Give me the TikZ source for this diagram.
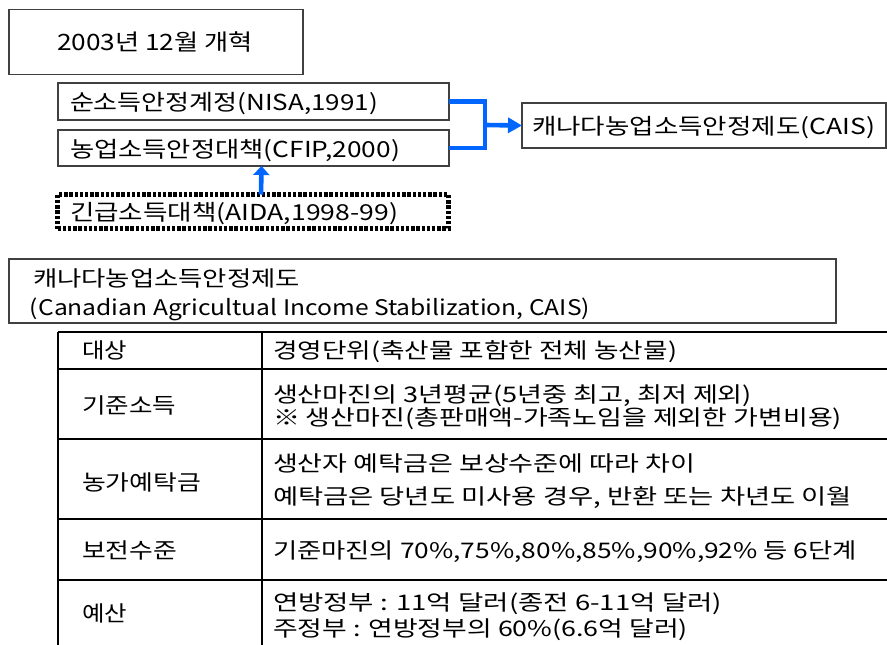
\documentclass[tikz,border=0pt]{standalone}
\usepackage{fontspec}
\setmainfont{Noto Sans CJK KR}
\usetikzlibrary{arrows.meta}
\definecolor{bl}{RGB}{0,102,255}
\newcommand{\fitw}[2]{\resizebox{#1pt}{\height}{#2}}
\begin{document}
\begin{tikzpicture}[x=1pt,y=-1pt,
  box/.style={draw=black!75, line width=1.1pt, rectangle, inner sep=0pt, outer sep=0pt},
  dotbox/.style={draw=black, line width=4.2pt, dash pattern=on 3.4pt off 1.8pt, rectangle, inner sep=0pt, outer sep=0pt},
  txt/.style={anchor=base west, inner sep=0pt, outer sep=0pt, font=\fontsize{21.5}{24}\selectfont},
  btxt/.style={txt, font=\fontsize{22}{24}\selectfont},
  conn/.style={draw=bl, line width=4.6pt},
  gridline/.style={line width=1.5pt, black}]
\fill[white] (0,0) rectangle (887,645);
\useasboundingbox (0,0) rectangle (887,645);

% top boxes
\node[box, minimum width=294pt, minimum height=65pt] (reform) at (156,42) {};
\node[box, minimum width=391pt, minimum height=37pt] (nisa) at (253.5,101.5) {};
\node[box, minimum width=391pt, minimum height=36pt] (cfip) at (253.5,148) {};
\node[dotbox, minimum width=391pt, minimum height=34pt] (aida) at (253,211.5) {};
\node[box, minimum width=364pt, minimum height=45pt] (cais) at (704,125.5) {};

\node[txt, font=\fontsize{22.5}{24}\selectfont] (t1) at (57,50.5) {\fitw{196}{2003년 12월 개혁}};
\node[btxt] (t2) at (70,110) {\fitw{308}{순소득안정계정(NISA,1991)}};
\node[btxt] (t3) at (70,157) {\fitw{330}{농업소득안정대책(CFIP,2000)}};
\node[btxt] (t4) at (70,220) {\fitw{328}{긴급소득대책(AIDA,1998-99)}};
\node[btxt] (t5) at (532,134) {\fitw{343}{캐나다농업소득안정제도(CAIS)}};

% connectors
\coordinate (j) at (485,125);
\draw[conn, line join=miter] (nisa.east) -| (j) |- (cfip.east);
\draw[conn, -{Triangle[length=14pt,width=15pt]}] (j) -- (cais.west);
\draw[conn, -{Triangle[length=9pt,width=16pt]}] ([xshift=8pt]aida.north) -- ([xshift=8pt]cfip.south);

% big box
\node[box, minimum width=827pt, minimum height=64pt] (big) at (422.5,291) {};
\node[txt] (b1) at (33,286.5) {\fitw{267}{캐나다농업소득안정제도}};
\node[txt] (b2) at (30,315.5) {\fitw{560}{(Canadian Agricultual Income Stabilization, CAIS)}};

% table grid
\draw[gridline] (58,332) -- (887,332);
\draw[gridline] (58,369) -- (887,369);
\draw[gridline] (58,439) -- (887,439);
\draw[gridline] (58,519) -- (887,519);
\draw[gridline] (58,580) -- (887,580);
\draw[gridline] (58,332) -- (58,645);
\draw[gridline] (262,332) -- (262,645);

% labels
\node[txt] (l1) at (82,358.5) {\fitw{45}{대상}};
\node[txt] (l2) at (82,413.5) {\fitw{94}{기준소득}};
\node[txt] (l3) at (82,490.5) {\fitw{119}{농가예탁금}};
\node[txt] (l4) at (82,558.5) {\fitw{95}{보전수준}};
\node[txt] (l5) at (82,621.5) {\fitw{45}{예산}};

% contents
\node[txt] (c1) at (273,358.5) {\fitw{404}{경영단위(축산물 포함한 전체 농산물)}};
\node[txt] (c2a) at (273,402.5) {\fitw{479}{생산마진의 3년평균(5년중 최고, 최저 제외)}};
\node[txt] (c2b) at (273,425.5) {\fitw{569}{※ 생산마진(총판매액-가족노임을 제외한 가변비용)}};
\node[txt] (c3a) at (273,471.5) {\fitw{422}{생산자 예탁금은 보상수준에 따라 차이}};
\node[txt] (c3b) at (273,504.5) {\fitw{579}{예탁금은 당년도 미사용 경우, 반환 또는 차년도 이월}};
\node[txt] (c4) at (273,558.5) {\fitw{584}{기준마진의 70\%,75\%,80\%,85\%,90\%,92\% 등 6단계}};
\node[txt] (c5a) at (273,610.5) {\fitw{449}{연방정부 : 11억 달러(종전 6-11억 달러)}};
\node[txt] (c5b) at (273,636.5) {\fitw{415}{주정부 : 연방정부의 60\%(6.6억 달러)}};
\end{tikzpicture}
\end{document}
